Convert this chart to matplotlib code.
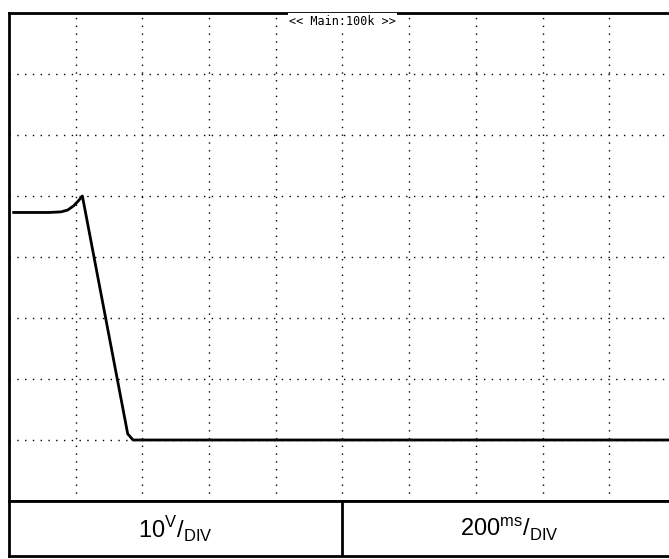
import matplotlib.pyplot as plt

plt.rcParams['font.family'] = ['Liberation Sans', 'DejaVu Sans']
plt.rcParams['mathtext.fontset'] = 'custom'
plt.rcParams['mathtext.rm'] = 'Liberation Sans'

# scope trace, in divisions (x: time div, y: volt div)
t_div = [0.07, 0.60, 0.78, 0.88, 0.97, 1.04, 1.10, 1.78, 1.86, 2.2, 10.0]
v_div = [4.73, 4.73, 4.74, 4.77, 4.84, 4.92, 5.00, 1.10, 1.00, 1.00, 1.00]

volt_label = r"10$^{\rm V}$/$_{\rm DIV}$"
time_label = r"200$^{\rm ms}$/$_{\rm DIV}$"
header = "<< Main:100k >>"

W, H = 669, 559
fig = plt.figure(figsize=(W / 100, H / 100), dpi=100)

# main screen: left edge 9px, top 13px, bottom 501px, 10 divs wide (runs off the right edge)
x0, top, bot, divw = 9.0, 13, 501, 66.7
ax = fig.add_axes([x0 / W, (H - bot) / H, 10 * divw / W, (bot - top) / H])
ax.set_xlim(0, 10)
ax.set_ylim(0, 8)
ax.set_xticks([])
ax.set_yticks([])
for s in ax.spines.values():
    s.set_linewidth(2)

for i in range(1, 10):
    ax.axvline(i, color='black', lw=1, ls=(0, (1, 4.6)), zorder=1)
for j in range(1, 8):
    ax.axhline(j, color='black', lw=1, ls=(0, (1, 4.6)), zorder=1)

ax.plot(t_div, v_div, color='black', lw=2, zorder=3)

ax.text(5, 7.97, header, ha='center', va='top', fontsize=8.5,
        family='DejaVu Sans Mono', bbox=dict(facecolor='white', edgecolor='none', pad=1), zorder=4)

# scale table underneath
tb = 556
tab = fig.add_axes([x0 / W, (H - tb) / H, 10 * divw / W, (tb - bot) / H])
tab.set_xlim(0, 10)
tab.set_ylim(0, 1)
tab.set_xticks([])
tab.set_yticks([])
for s in tab.spines.values():
    s.set_linewidth(2)
tab.axvline(5, color='black', lw=2)
tab.text(2.5, 0.48, volt_label, ha='center', va='center', fontsize=17)
tab.text(7.5, 0.48, time_label, ha='center', va='center', fontsize=17)

fig.savefig('out.png', dpi=100, facecolor='white')
